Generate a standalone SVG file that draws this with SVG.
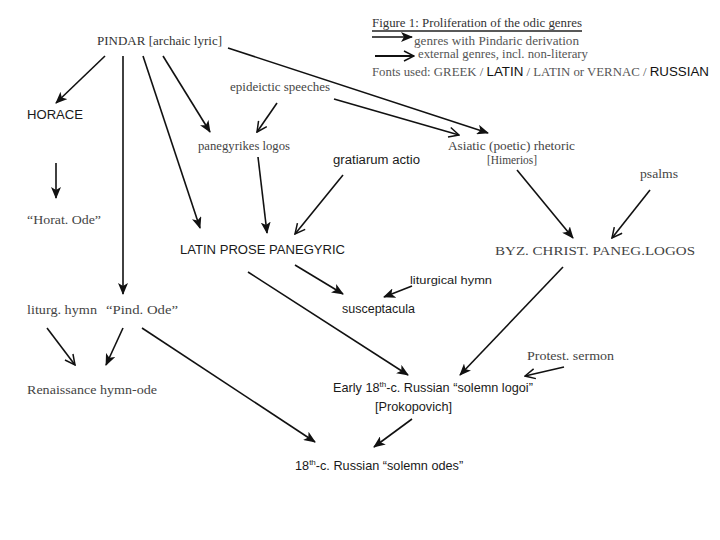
<svg xmlns="http://www.w3.org/2000/svg" width="720" height="540" viewBox="0 0 720 540">
<defs>
<style>
.g{font-family:"Liberation Serif","DejaVu Serif",serif;fill:#444;font-size:12.5px}
.l{font-family:"Liberation Sans","DejaVu Sans",sans-serif;fill:#1a1a1a;font-size:12px}
.s{font-size:11.5px}
.c{stroke:#111;stroke-width:1.6;fill:none}
.p{marker-end:url(#fh)}
.e{marker-end:url(#oh)}
</style>
<marker id="fh" markerUnits="userSpaceOnUse" markerWidth="12" markerHeight="10" refX="11" refY="5" orient="auto"><path d="M0,0 L12,5 L0,10 L3,5 z" fill="#111"/></marker>
<marker id="oh" markerUnits="userSpaceOnUse" markerWidth="12" markerHeight="12" refX="11" refY="6" orient="auto"><path d="M1,1 L11,6 L1,11" fill="none" stroke="#111" stroke-width="1.5"/></marker>
</defs>
<rect width="720" height="540" fill="#fff"/>
<g id="legend">
<text x="372" y="27" class="g s" style="fill:#333" textLength="210" lengthAdjust="spacingAndGlyphs">Figure 1: Proliferation of the odic genres</text>
<line x1="372" y1="31" x2="582" y2="31" stroke="#222" stroke-width="1.5"/>
<line x1="372" y1="37" x2="412" y2="37" class="c p"/>
<text x="414" y="45" class="g s" style="fill:#555" textLength="165" lengthAdjust="spacingAndGlyphs">genres with Pindaric derivation</text>
<line x1="375" y1="56" x2="414" y2="56" class="c e" style="stroke-width:2.2"/>
<text x="418" y="58" class="g s" style="fill:#555" textLength="170" lengthAdjust="spacingAndGlyphs">external genres, incl. non-literary</text>
<text x="372" y="76" class="g s" style="fill:#555" textLength="337" lengthAdjust="spacingAndGlyphs">Fonts used: GREEK / <tspan class="l" style="fill:#111">LATIN</tspan> / LATIN or VERNAC / <tspan class="l" style="fill:#111">RUSSIAN</tspan></text>
</g>
<g id="connectors">
<line x1="105" y1="56" x2="56" y2="103" class="c p"/>
<line x1="123" y1="56" x2="123" y2="294" class="c p"/>
<line x1="143" y1="56" x2="200" y2="228" class="c p"/>
<line x1="163" y1="56" x2="210" y2="132" class="c p"/>
<line x1="228" y1="48" x2="488" y2="133" class="c p"/>
<line x1="277" y1="103" x2="257" y2="132" class="c e"/>
<line x1="334" y1="99" x2="459" y2="135" class="c e"/>
<line x1="56" y1="163" x2="56" y2="198" class="c p"/>
<line x1="258" y1="157" x2="267" y2="233" class="c p"/>
<line x1="343" y1="175" x2="295" y2="234" class="c e"/>
<line x1="517" y1="170" x2="573" y2="238" class="c p"/>
<line x1="650" y1="190" x2="612" y2="238" class="c e"/>
<line x1="295" y1="265" x2="343" y2="294" class="c p"/>
<line x1="248" y1="272" x2="408" y2="375" class="c p"/>
<line x1="412" y1="286" x2="384" y2="297" class="c p"/>
<line x1="563" y1="267" x2="460" y2="375" class="c p"/>
<line x1="564" y1="367" x2="525" y2="376" class="c e"/>
<line x1="412" y1="419" x2="374" y2="447" class="c p"/>
<line x1="142" y1="328" x2="315" y2="442" class="c p"/>
<line x1="47" y1="328" x2="75" y2="365" class="c e"/>
<line x1="123" y1="328" x2="106" y2="365" class="c p"/>
</g>
<g id="pindar"><text x="97" y="45" class="g" style="fill:#333" textLength="125" lengthAdjust="spacingAndGlyphs">PINDAR [archaic lyric]</text></g>
<g id="epideictic"><text x="230" y="91" class="g" style="font-size:11.5px" textLength="100" lengthAdjust="spacingAndGlyphs">epideictic speeches</text></g>
<g id="horace"><text x="27" y="119" class="l" textLength="56" lengthAdjust="spacingAndGlyphs">HORACE</text></g>
<g id="panegyrikes"><text x="198" y="150" class="g" textLength="92" lengthAdjust="spacingAndGlyphs">panegyrikes logos</text></g>
<g id="gratiarum"><text x="333" y="164" class="l" textLength="87" lengthAdjust="spacingAndGlyphs">gratiarum actio</text></g>
<g id="asiatic"><text x="448" y="150" class="g" textLength="127" lengthAdjust="spacingAndGlyphs">Asiatic (poetic) rhetoric</text><text x="487" y="164" class="g" textLength="50" lengthAdjust="spacingAndGlyphs">[Himerios]</text></g>
<g id="psalms"><text x="640" y="178" class="g" textLength="38" lengthAdjust="spacingAndGlyphs">psalms</text></g>
<g id="horat-ode"><text x="27" y="224" class="g" textLength="74" lengthAdjust="spacingAndGlyphs">“Horat. Ode”</text></g>
<g id="latin-prose"><text x="180" y="254" class="l" textLength="165" lengthAdjust="spacingAndGlyphs">LATIN PROSE PANEGYRIC</text></g>
<g id="byz"><text x="495" y="255" class="g" textLength="200" lengthAdjust="spacingAndGlyphs">BYZ. CHRIST. PANEG.LOGOS</text></g>
<g id="liturgical-hymn"><text x="410" y="284" class="l" style="font-size:11px" textLength="82" lengthAdjust="spacingAndGlyphs">liturgical hymn</text></g>
<g id="liturg-hymn"><text x="27" y="314" class="g" textLength="70" lengthAdjust="spacingAndGlyphs">liturg. hymn</text></g>
<g id="pind-ode"><text x="106" y="314" class="g" textLength="72" lengthAdjust="spacingAndGlyphs">“Pind. Ode”</text></g>
<g id="susceptacula"><text x="342" y="313" class="l" textLength="73" lengthAdjust="spacingAndGlyphs">susceptacula</text></g>
<g id="protest"><text x="527" y="360" class="g" textLength="87" lengthAdjust="spacingAndGlyphs">Protest. sermon</text></g>
<g id="renaissance"><text x="27" y="394" class="g" textLength="130" lengthAdjust="spacingAndGlyphs">Renaissance hymn-ode</text></g>
<g id="early"><text x="333" y="392" class="l" style="font-size:12.7px">Early 18<tspan dy="-5" style="font-size:8px">th</tspan><tspan dy="5">-c. Russian “solemn logoi”</tspan></text><text x="375" y="411" class="l" textLength="77" lengthAdjust="spacingAndGlyphs">[Prokopovich]</text></g>
<g id="odes"><text x="295" y="470" class="l" style="font-size:12.7px">18<tspan dy="-5" style="font-size:8px">th</tspan><tspan dy="5">-c. Russian “solemn odes”</tspan></text></g>
</svg>
